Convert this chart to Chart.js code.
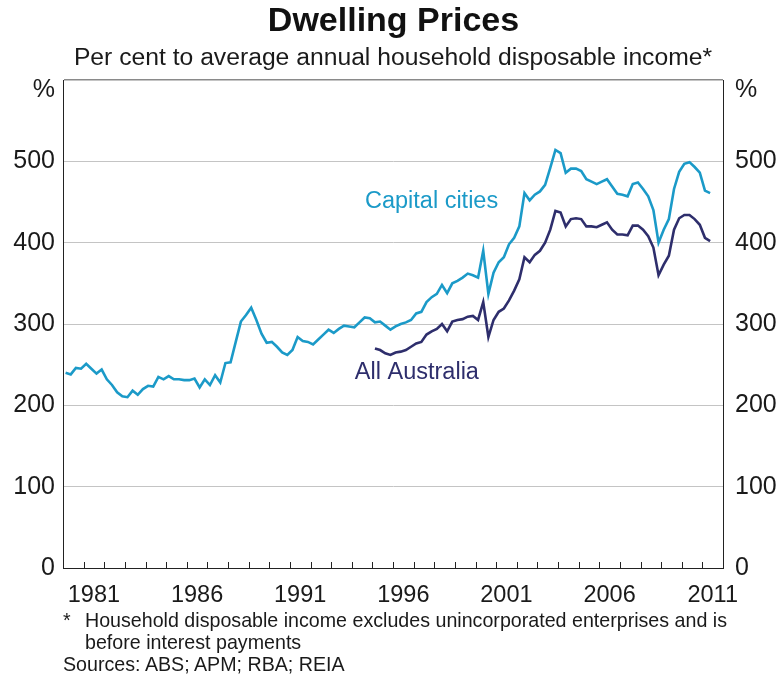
<!DOCTYPE html>
<html>
<head>
<meta charset="utf-8">
<script src="https://cdn.jsdelivr.net/npm/chart.js@4.4.1/dist/chart.umd.min.js"></script>
<style>
  html, body { margin: 0; padding: 0; background: #ffffff; }
  #wrap { position: relative; width: 779px; height: 676px; overflow: hidden; font-family: "Liberation Sans", Arial, sans-serif; color: #1a1a1a; }
  #chart { position: absolute; left: 0; top: 0; }
  .t { position: absolute; white-space: nowrap; }
  #title { left: 0; width: 787px; text-align: center; top: 2px; font-size: 34px; line-height: 34px; font-weight: bold; color: #111; }
  #subtitle { left: 0; width: 786px; text-align: center; top: 44px; font-size: 24.7px; line-height: 25px; }
  .fn { font-size: 19.65px; line-height: 21.5px; }
</style>
</head>
<body>
<div id="wrap">
  <canvas id="chart" width="779" height="676"></canvas>
  <div class="t" id="title">Dwelling Prices</div>
  <div class="t" id="subtitle">Per cent to average annual household disposable income*</div>
  <div class="t fn" style="left:63px; top:610px;">*</div>
  <div class="t fn" style="left:85px; top:610px;">Household disposable income excludes unincorporated enterprises and is<br>before interest payments</div>
  <div class="t fn" style="left:63px; top:654px;">Sources: ABS; APM; RBA; REIA</div>
</div>
<script>
// ---- Data (quarterly, per cent of average annual household disposable income) ----
const firstYear = 1980;          // series start: 1980 Q1
const capitalCities = [
  240,238,246,245,251,245,239,244,232,225,216,211,210,218,213,220,224,223,235,232,
  236,232,232,231,231,233,222,232,225,237,228,252,253,278,303,311,320,305,288,277,
  278,272,265,262,268,284,279,278,275,
  281,287,293,289,294,298,297,296,302,308,307,302,303,298,293,297,300,302,305,313,
  315,327,333,337,348,338,350,353,357,362,360,357,390,337,
  363,376,382,398,406,420,461,452,459,463,471,492,514,510,486,491,491,488,478,475,
  472,475,478,469,460,459,457,472,474,466,457,440,400,416,429,466,487,497,499,493,
  486,464,461
];
const allAustraliaStartQuarter = 60; // 1995 Q1
const allAustralia = [
  270,268,264,262,265,266,268,272,276,278,
  287,291,294,300,291,303,305,306,309,310,
  305,327,284,305,315,319,329,341,355,382,
  376,385,390,400,416,439,437,420,429,430,
  429,420,420,419,422,425,416,410,410,409,
  421,421,416,408,394,360,373,384,416,430,
  434,434,429,422,406,402
];
const yearLabels = [1981, 1986, 1991, 1996, 2001, 2006, 2011];
const yTicks = [0, 100, 200, 300, 400, 500, 600];
const seriesNames = ['Capital cities', 'All Australia'];
const seriesLabelAnchors = [ {x: 1994.64, y: 442.5}, {x: 1994.15, y: 232} ]; // in data units
const colors = ['#1b9ac8', '#2e2e6c'];

function quarterYear(i) { return firstYear + (i + 0.5) / 4; }
const capPts = capitalCities.map((v, i) => ({x: quarterYear(i), y: v}));
const ausPts = allAustralia.map((v, i) => ({x: quarterYear(i + allAustraliaStartQuarter), y: v}));

const tickFont = {family: '"Liberation Sans", Arial, sans-serif', size: 23.5, lineHeight: 1.2};
const yTickFont = {family: '"Liberation Sans", Arial, sans-serif', size: 25, lineHeight: 0.8};

const innerTicks = {
  id: 'innerTicks',
  afterDatasetsDraw(chart) {
    const ctx = chart.ctx, xs = chart.scales.x, a = chart.chartArea;
    ctx.save();
    ctx.strokeStyle = '#222';
    ctx.lineWidth = 1;
    for (let yr = Math.ceil(xs.min) + 1; yr < xs.max; yr++) {
      const px = Math.round(xs.getPixelForValue(yr)) + 0.5;
      ctx.beginPath();
      ctx.moveTo(px, a.bottom);
      ctx.lineTo(px, a.bottom - 6);
      ctx.stroke();
    }
    ctx.restore();
  }
};

const seriesLabels = {
  id: 'seriesLabels',
  afterDatasetsDraw(chart) {
    const ctx = chart.ctx, xs = chart.scales.x, ys = chart.scales.y;
    ctx.save();
    ctx.font = '23.5px "Liberation Sans", Arial, sans-serif';
    ctx.textAlign = 'left';
    ctx.textBaseline = 'alphabetic';
    seriesNames.forEach((name, k) => {
      ctx.fillStyle = colors[k];
      ctx.fillText(name, xs.getPixelForValue(seriesLabelAnchors[k].x), ys.getPixelForValue(seriesLabelAnchors[k].y));
    });
    ctx.restore();
  }
};

new Chart(document.getElementById('chart'), {
  type: 'line',
  data: {
    datasets: [
      {label: seriesNames[0], data: capPts, borderColor: colors[0], borderWidth: 2.6, pointRadius: 0, tension: 0, fill: false},
      {label: seriesNames[1], data: ausPts, borderColor: colors[1], borderWidth: 2.6, pointRadius: 0, tension: 0, fill: false}
    ]
  },
  options: {
    responsive: false,
    animation: false,
    devicePixelRatio: 1,
    layout: {padding: {top: 80, left: 0, right: 0, bottom: 0}},
    plugins: {legend: {display: false}, tooltip: {enabled: false}, title: {display: false}},
    scales: {
      x: {
        type: 'linear', min: firstYear, max: 2012,
        afterBuildTicks: s => { s.ticks = yearLabels.map(y => ({value: y + 0.5})); },
        afterFit: s => { s.height = 108; },
        grid: {display: false, drawTicks: false, tickLength: 0},
        border: {display: true, color: '#222', width: 1},
        ticks: {autoSkip: false, maxRotation: 0, minRotation: 0, padding: 13, color: '#1a1a1a', font: tickFont,
                callback: v => String(Math.floor(v))}
      },
      y: {
        position: 'left', min: 0, max: 600,
        afterBuildTicks: s => { s.ticks = yTicks.map(v => ({value: v})); },
        afterFit: s => { s.width = 63; },
        grid: {drawTicks: false, tickLength: 0,
               color: c => c.tick && c.tick.value === 600 ? '#8a8a8a' : (c.tick && c.tick.value === 0 ? '#222' : '#c4c4c4'),
               lineWidth: c => c.tick && c.tick.value === 600 ? 1.5 : 1},
        border: {display: true, color: '#222', width: 1},
        ticks: {padding: 8, color: '#1a1a1a', font: yTickFont,
                callback: v => v === 600 ? ['', '%'] : String(v)}
      },
      y2: {
        position: 'right', min: 0, max: 600,
        afterBuildTicks: s => { s.ticks = yTicks.map(v => ({value: v})); },
        afterFit: s => { s.width = 56; },
        grid: {display: false, drawTicks: false, tickLength: 0},
        border: {display: true, color: '#222', width: 1},
        ticks: {padding: 12, color: '#1a1a1a', font: yTickFont,
                callback: v => v === 600 ? ['', '%'] : String(v)}
      }
    }
  },
  plugins: [innerTicks, seriesLabels]
});
</script>
</body>
</html>
